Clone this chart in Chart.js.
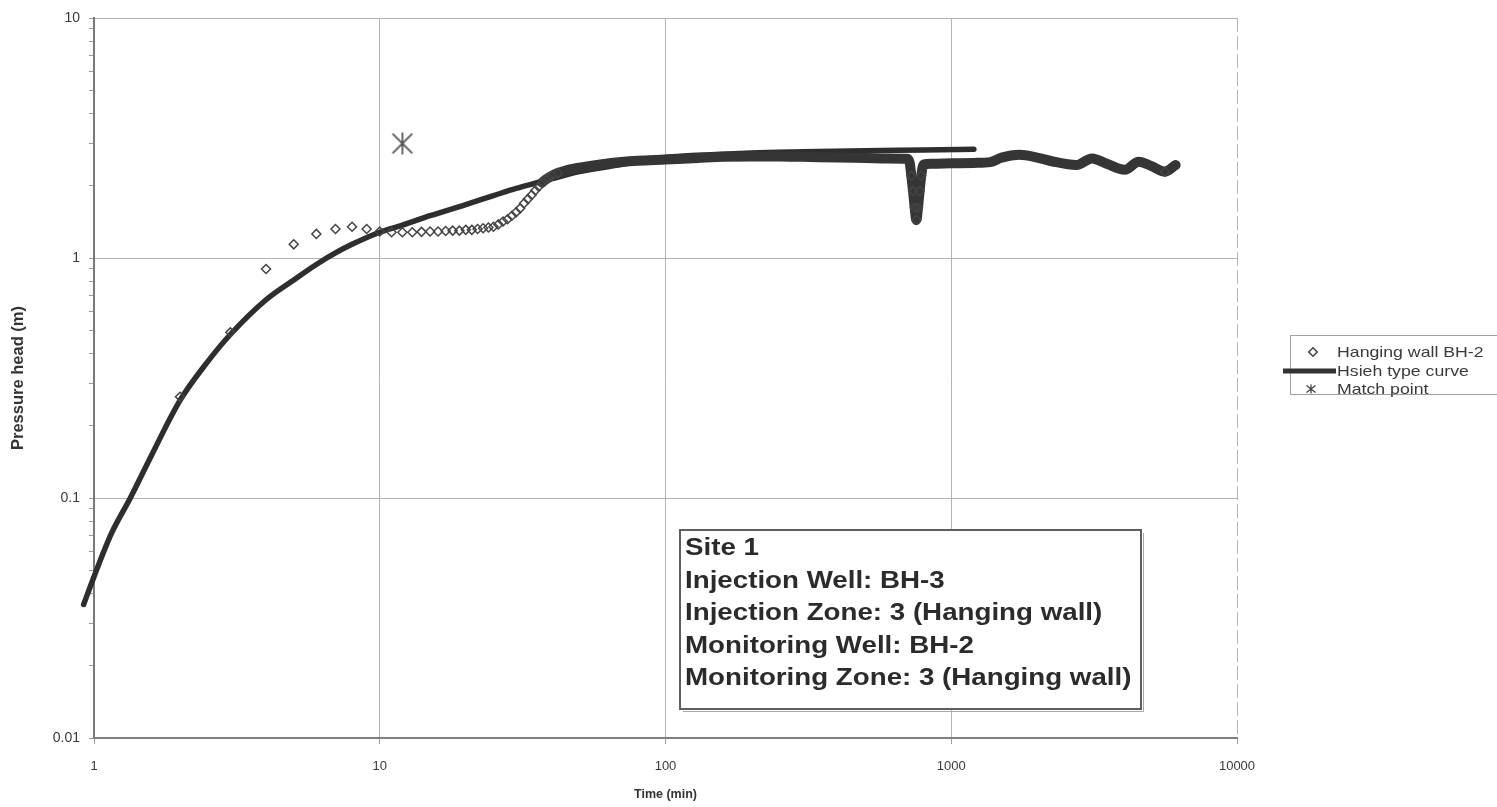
<!DOCTYPE html>
<html>
<head>
<meta charset="utf-8">
<title>Pressure head vs time</title>
<script src="https://cdn.jsdelivr.net/npm/chart.js@4.4.1/dist/chart.umd.min.js"></script>
<style>
html,body{margin:0;padding:0;background:#ffffff;overflow:hidden;}
#box{position:relative;width:1497px;height:807px;}
canvas{display:block;}
</style>
</head>
<body>
<div id="box"><canvas id="chart" width="1497" height="807"></canvas></div>
<script>
// ---------------- data ----------------
const seriesNames = ['Hanging wall BH-2', 'Hsieh type curve', 'Match point'];

// Hanging wall BH-2 observations: time (min) / pressure head (m)
const obsTime = [2, 3, 4, 5, 6, 7, 8, 9, 10, 11, 12, 13, 14, 15, 16, 17, 18, 19, 20,
  21, 22, 23, 24, 25, 26, 27, 28, 29, 30, 31, 32, 33, 34, 35, 36, 37,
  38, 39, 40, 42, 45, 50, 60, 70, 80, 100, 130, 160, 200, 250, 300, 400, 500, 600, 700,
  715, 725, 735, 745, 755, 765, 775, 785, 800, 850, 1000, 1200, 1370, 1500, 1730, 2000, 2250,
  2740, 3110, 3500, 4050, 4530, 5000, 5600, 6100];
const obsHead = [0.264, 0.49, 0.90, 1.14, 1.26, 1.32, 1.35, 1.32, 1.29, 1.28, 1.28, 1.28, 1.285, 1.29, 1.29, 1.295, 1.30, 1.30, 1.31,
  1.31, 1.32, 1.33, 1.34, 1.35, 1.38, 1.42, 1.45, 1.50, 1.55, 1.61, 1.69, 1.76, 1.83, 1.91, 1.98, 2.06,
  2.12, 2.16, 2.20, 2.26, 2.32, 2.38, 2.46, 2.51, 2.54, 2.57, 2.61, 2.64, 2.65, 2.65, 2.64, 2.62, 2.61, 2.60, 2.59,
  2.50, 2.20, 1.90, 1.62, 1.44, 1.62, 1.90, 2.20, 2.45, 2.47, 2.48, 2.49, 2.51, 2.62, 2.69, 2.62, 2.53,
  2.44, 2.60, 2.47, 2.33, 2.52, 2.42, 2.29, 2.44];

// Hsieh type curve
const curveTime = [0.92, 1, 1.15, 1.34, 1.6, 2, 2.5, 3, 4, 5, 6, 7, 8, 10, 12, 15, 20, 25, 30, 35, 40,
  50, 70, 100, 150, 200, 300, 500, 800, 1200];
const curveHead = [0.036, 0.047, 0.071, 0.10, 0.153, 0.255, 0.37, 0.48, 0.67, 0.81, 0.94, 1.05, 1.14, 1.28, 1.37, 1.50, 1.67, 1.82, 1.95, 2.05, 2.14,
  2.29, 2.45, 2.62, 2.70, 2.74, 2.77, 2.80, 2.82, 2.84];

// Match point
const matchTime = [12];
const matchHead = [3];

// axes
const xTickValues = [1, 10, 100, 1000, 10000];
const yTickValues = [0.01, 0.1, 1, 10];
const xAxisTitle = 'Time (min)';
const yAxisTitle = 'Pressure head (m)';

// annotation box
const infoLines = ['Site 1', 'Injection Well: BH-3', 'Injection Zone: 3 (Hanging wall)',
  'Monitoring Well: BH-2', 'Monitoring Zone: 3 (Hanging wall)'];

// ---------------- rendering ----------------
const FONT = '"Liberation Sans", Arial, Helvetica, sans-serif';
Chart.defaults.font.family = FONT;

function makeStar(size, lw, color) {
  const c = document.createElement('canvas');
  c.width = size; c.height = size;
  const g = c.getContext('2d');
  g.strokeStyle = color; g.lineWidth = lw;
  const m = size / 2, r = size / 2 - 1;
  const d = r * 0.9;
  g.beginPath();
  g.moveTo(m, m - r); g.lineTo(m, m + r);
  g.moveTo(m - d, m - d); g.lineTo(m + d, m + d);
  g.moveTo(m + d, m - d); g.lineTo(m - d, m + d);
  g.stroke();
  return c;
}
const starBig = makeStar(24, 1.7, '#505050');

const toXY = (xs, ys) => xs.map((x, i) => ({x: x, y: ys[i]}));
const isMajorY = v => yTickValues.some(t => Math.abs(t - v) / t < 1e-6);

function stretchText(ctx, text, x, y, sx) {
  ctx.save();
  ctx.translate(x, y);
  ctx.scale(sx, 1);
  ctx.fillText(text, 0, 0);
  ctx.restore();
}

const framePlugin = {
  id: 'frame',
  beforeDatasetsDraw(chart) {
    const {ctx, chartArea: a} = chart;
    ctx.save();
    ctx.strokeStyle = '#b5b5b5';
    ctx.lineWidth = 1;
    ctx.setLineDash([14, 4]);
    ctx.beginPath();
    ctx.moveTo(a.right + 0.5, a.top);
    ctx.lineTo(a.right + 0.5, a.bottom);
    ctx.stroke();
    ctx.restore();
  }
};

const decorPlugin = {
  id: 'decor',
  afterDraw(chart) {
    const {ctx, chartArea: a} = chart;
    // ----- legend -----
    const L = a.right + 53, T = a.top + 317, W = 212, H = 59;
    ctx.save();
    ctx.strokeStyle = '#a0a0a0';
    ctx.lineWidth = 1;
    ctx.strokeRect(L + 0.5, T + 0.5, W, H);
    const rows = [T + 17, T + 36, T + 54];
    // diamond
    ctx.strokeStyle = '#444';
    ctx.lineWidth = 1.6;
    const dx = L + 23, r = 4.2;
    ctx.beginPath();
    ctx.moveTo(dx - r, rows[0]); ctx.lineTo(dx, rows[0] - r);
    ctx.lineTo(dx + r, rows[0]); ctx.lineTo(dx, rows[0] + r); ctx.closePath();
    ctx.stroke();
    // line
    ctx.strokeStyle = '#333';
    ctx.lineWidth = 5;
    ctx.beginPath();
    ctx.moveTo(L - 7, rows[1]); ctx.lineTo(L + 46, rows[1]);
    ctx.stroke();
    // asterisk
    ctx.strokeStyle = '#444';
    ctx.lineWidth = 1.3;
    const sx = L + 21, sr = 4.5;
    ctx.beginPath();
    ctx.moveTo(sx, rows[2] - sr); ctx.lineTo(sx, rows[2] + sr);
    ctx.moveTo(sx - sr, rows[2] - sr * 0.8); ctx.lineTo(sx + sr, rows[2] + sr * 0.8);
    ctx.moveTo(sx + sr, rows[2] - sr * 0.8); ctx.lineTo(sx - sr, rows[2] + sr * 0.8);
    ctx.stroke();
    ctx.fillStyle = '#3a3a3a';
    ctx.font = '15px ' + FONT;
    ctx.textBaseline = 'middle';
    ctx.textAlign = 'left';
    chart.data.datasets.forEach((ds, i) => stretchText(ctx, ds.label, L + 47, rows[i] + 0.5, 1.18));
    ctx.restore();

    // ----- annotation box -----
    const bx = a.left + 586, by = a.top + 512, bw = 461, bh = 179;
    ctx.save();
    ctx.fillStyle = '#ffffff';
    ctx.fillRect(bx, by, bw, bh);
    ctx.strokeStyle = '#a8a8a8';
    ctx.lineWidth = 1;
    ctx.beginPath();
    ctx.moveTo(bx + 3, by + bh + 2.5); ctx.lineTo(bx + bw + 2.5, by + bh + 2.5); ctx.lineTo(bx + bw + 2.5, by + 3);
    ctx.stroke();
    ctx.strokeStyle = '#5e5e5e';
    ctx.lineWidth = 2;
    ctx.strokeRect(bx, by, bw, bh);
    ctx.fillStyle = '#2b2b2b';
    ctx.font = 'bold 23px ' + FONT;
    ctx.textBaseline = 'alphabetic';
    infoLines.forEach((t, i) => stretchText(ctx, t, bx + 5, by + 25 + i * 32.6, 1.205));
    ctx.restore();
  }
};

new Chart(document.getElementById('chart'), {
  type: 'scatter',
  data: {
    datasets: [
      {
        label: seriesNames[0],
        data: toXY(obsTime, obsHead),
        showLine: true,
        borderColor: '#353535',
        borderWidth: 10,
        borderJoinStyle: 'round',
        borderCapStyle: 'round',
        cubicInterpolationMode: 'monotone',
        segment: {
          borderColor: c => (c.p0.parsed.x >= 37 ? '#353535' : 'rgba(0,0,0,0)')
        },
        pointStyle: 'rectRot',
        pointRadius: c => {
          const p = c.parsed;
          if (!p) return 4.5;
          return (p.x <= 37 || p.y < 2.3) ? 4.5 : 0;
        },
        pointBorderColor: '#444444',
        pointBackgroundColor: 'rgba(255,255,255,0)',
        pointBorderWidth: 1.5,
        order: 1
      },
      {
        label: seriesNames[1],
        data: toXY(curveTime, curveHead),
        showLine: true,
        borderColor: '#2e2e2e',
        borderWidth: 5.5,
        borderCapStyle: 'round',
        cubicInterpolationMode: 'monotone',
        pointRadius: 0,
        clip: false,
        order: 2
      },
      {
        label: seriesNames[2],
        data: toXY(matchTime, matchHead),
        showLine: false,
        pointStyle: starBig,
        pointRadius: 12,
        order: 0
      }
    ]
  },
  options: {
    responsive: false,
    animation: false,
    devicePixelRatio: 1,
    events: [],
    layout: {padding: {left: 0, right: 260, top: 18, bottom: 0}},
    plugins: {legend: {display: false}, tooltip: {enabled: false}},
    scales: {
      x: {
        type: 'logarithmic',
        position: 'bottom',
        min: 1, max: 10000,
        afterBuildTicks: s => { s.ticks = xTickValues.map(v => ({value: v})); },
        afterFit: s => { s.height = 69; },
        ticks: {
          callback: v => String(v),
          color: '#3a3a3a',
          font: {size: 13},
          padding: 15,
          maxRotation: 0,
          autoSkip: false
        },
        grid: {
          color: c => (c.tick && c.tick.value >= 10000 ? 'rgba(0,0,0,0)' : '#b3b3b3'),
          lineWidth: 1,
          tickLength: 6,
          tickColor: '#a0a0a0'
        },
        border: {color: '#808080', width: 2},
        title: {display: true, text: xAxisTitle, color: '#333', font: {size: 12.5, weight: 'bold'}, padding: {top: 0, bottom: 5}}
      },
      y: {
        type: 'logarithmic',
        position: 'left',
        min: 0.01, max: 10,
        afterBuildTicks: s => {
          const t = [];
          for (let d = 0; d < yTickValues.length - 1; d++) {
            for (let k = 1; k <= 9; k++) t.push({value: k * yTickValues[d]});
          }
          t.push({value: yTickValues[yTickValues.length - 1]});
          s.ticks = t;
        },
        afterFit: s => { s.width = 94; },
        ticks: {
          callback: v => (isMajorY(v) ? String(v) : ''),
          color: '#3a3a3a',
          font: {size: 14},
          padding: 9,
          autoSkip: false
        },
        grid: {
          color: c => (c.tick && isMajorY(c.tick.value) ? '#b3b3b3' : 'rgba(0,0,0,0)'),
          lineWidth: 1,
          tickLength: 5,
          tickColor: '#9a9a9a'
        },
        border: {color: '#7a7a7a', width: 2},
        title: {display: true, text: yAxisTitle, color: '#333', font: {size: 16.5, weight: 'bold'}, padding: {top: 9, bottom: 0}}
      }
    }
  },
  plugins: [framePlugin, decorPlugin]
});
</script>
</body>
</html>
